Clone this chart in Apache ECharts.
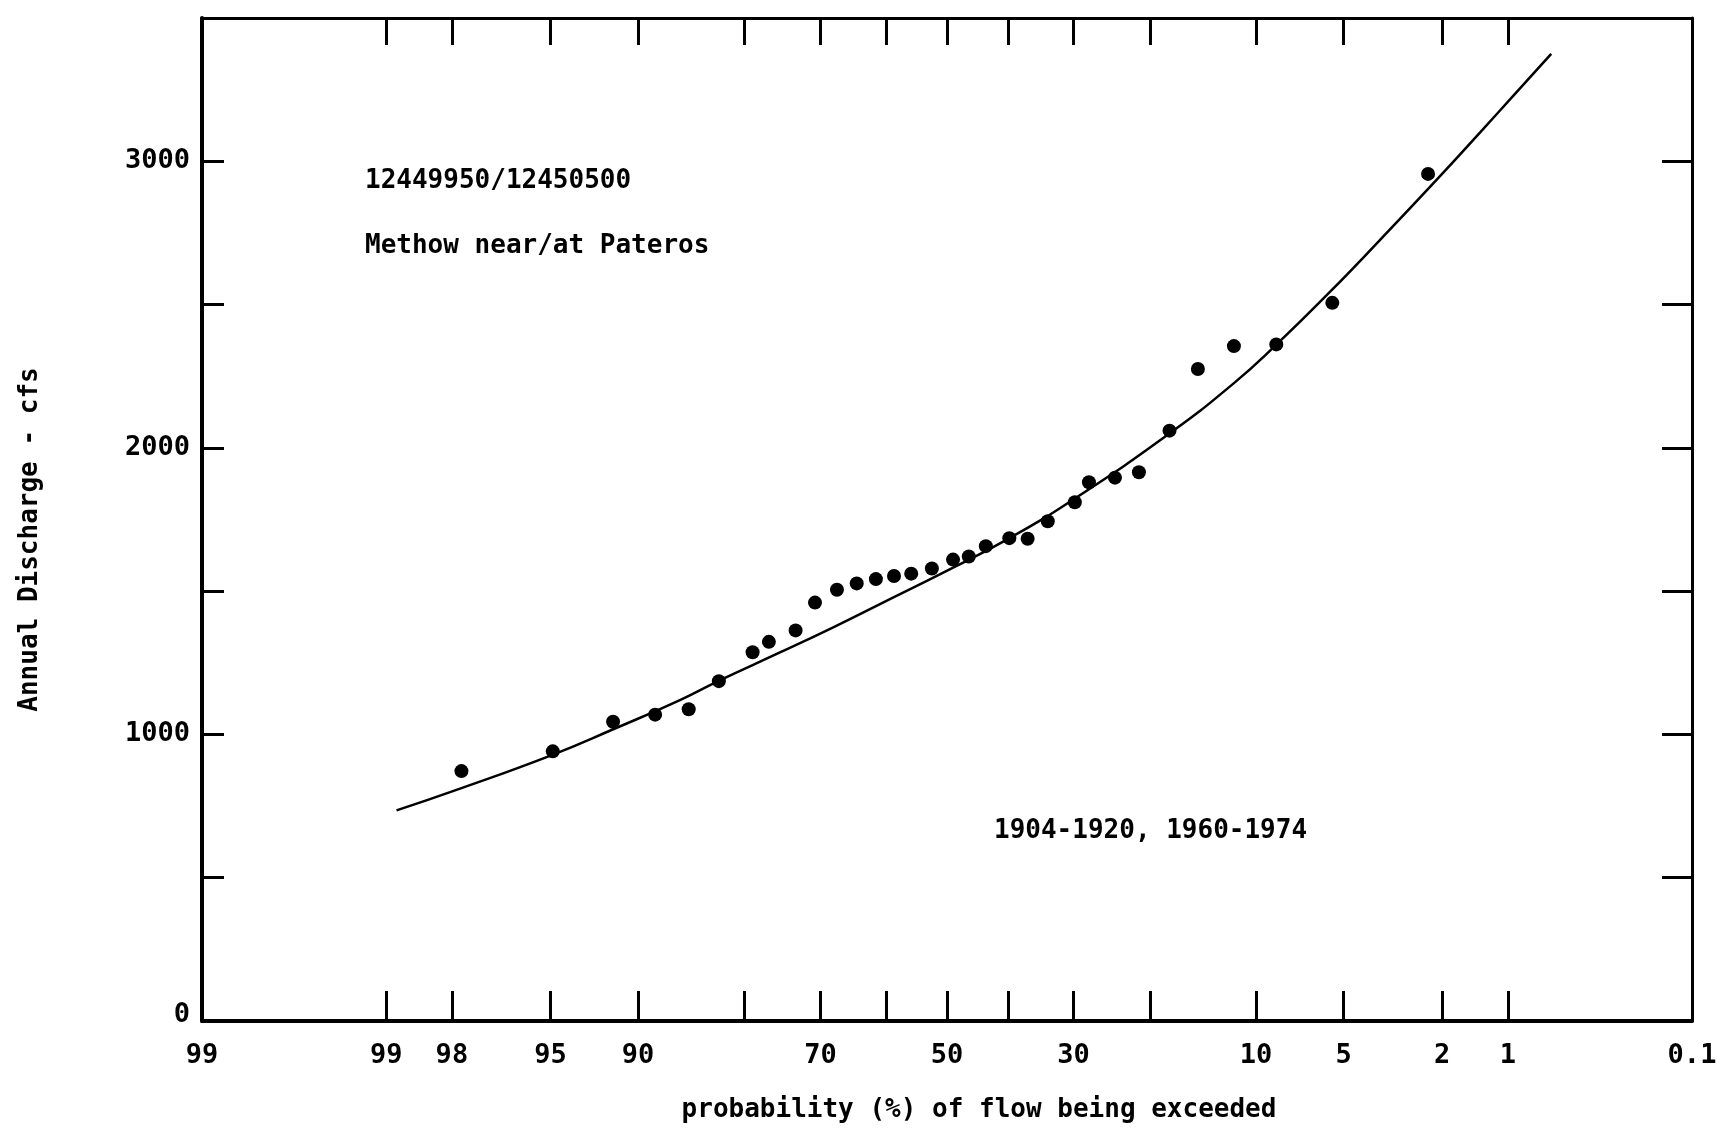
<!DOCTYPE html>
<html>
<head>
<meta charset="utf-8">
<script src="https://cdn.jsdelivr.net/npm/echarts@6/dist/echarts.min.js"></script>
<style>
html,body{margin:0;padding:0;background:#fff;}
#chart{width:1733px;height:1129px;}
</style>
</head>
<body>
<div id="chart"></div>
<script>
// ---- data ----
// observed annual discharge (cfs) vs. exceedance probability (%)
const obsExceedPct = [97.8, 94.9, 91.7, 88.7, 85.8, 82.8, 79.0, 77.0, 73.5, 70.8, 67.6, 64.6, 61.6, 58.7, 55.9, 52.5,
                      49.0, 46.4, 43.6, 39.8, 36.9, 33.8, 29.8, 27.8, 24.3, 21.3, 17.8, 14.9, 11.7, 8.6, 5.5, 2.3];
const obsDischarge = [872, 941, 1044, 1069, 1088, 1186, 1287, 1323, 1363, 1460, 1505, 1527, 1542, 1553, 1561, 1579,
                      1610, 1621, 1657, 1685, 1683, 1744, 1810, 1880, 1896, 1915, 2060, 2275, 2355, 2361, 2506, 2956];
// fitted frequency curve
const curveExceedPct = [98.88, 97.83, 94.94, 91.69, 86.60, 82.76, 75.58, 68.15, 60.95, 50.05, 39.69, 30.01,
                        17.81, 11.72, 8.56, 5.60, 3.62, 2.11, 1.35, 0.94, 0.61];
const curveDischarge = [735, 811, 928, 1018, 1120, 1188, 1286, 1374, 1455, 1571, 1686, 1820,
                        2050, 2225, 2362, 2545, 2726, 2936, 3101, 3229, 3375];
// axis ticks / labels
const xTickPct = [99, 98, 95, 90, 80, 70, 60, 50, 40, 30, 20, 10, 5, 2, 1];
const xLabelPct = [99.9, 99, 98, 95, 90, 70, 50, 30, 10, 5, 2, 1, 0.1];
const xLabelText = ['99', '99', '98', '95', '90', '70', '50', '30', '10', '5', '2', '1', '0.1'];
const yMin = 0, yMax = 3500, yStep = 500;
const yLabelValues = [0, 1000, 2000, 3000];
const annotations = ['12449950/12450500', 'Methow near/at Pateros', '1904-1920, 1960-1974'];

// ---- normal probability scale ----
function invNorm(p) {
  const a = [-3.969683028665376e+01, 2.209460984245205e+02, -2.759285104469687e+02, 1.383577518672690e+02, -3.066479806614716e+01, 2.506628277459239e+00];
  const b = [-5.447609879822406e+01, 1.615858368580409e+02, -1.556989798598866e+02, 6.680131188771972e+01, -1.328068155288572e+01];
  const c = [-7.784894002430293e-03, -3.223964580411365e-01, -2.400758277161838e+00, -2.549732968232446e+00, 4.374664141464968e+00, 2.938163982698783e+00];
  const d = [7.784695709041462e-03, 3.224671290700398e-01, 2.445134137142996e+00, 3.754408661907416e+00];
  const pl = 0.02425;
  let q, r;
  if (p < pl) {
    q = Math.sqrt(-2 * Math.log(p));
    return (((((c[0]*q+c[1])*q+c[2])*q+c[3])*q+c[4])*q+c[5]) / ((((d[0]*q+d[1])*q+d[2])*q+d[3])*q+1);
  } else if (p <= 1 - pl) {
    q = p - 0.5; r = q * q;
    return (((((a[0]*r+a[1])*r+a[2])*r+a[3])*r+a[4])*r+a[5])*q / (((((b[0]*r+b[1])*r+b[2])*r+b[3])*r+b[4])*r+1);
  } else {
    q = Math.sqrt(-2 * Math.log(1 - p));
    return -(((((c[0]*q+c[1])*q+c[2])*q+c[3])*q+c[4])*q+c[5]) / ((((d[0]*q+d[1])*q+d[2])*q+d[3])*q+1);
  }
}
const zx = pct => invNorm(1 - pct / 100);
const XMIN = zx(99.9), XMAX = zx(0.1);
const tickZ = xTickPct.map(zx);
const labelZ = xLabelPct.map(zx);
function xLabelFmt(v) {
  for (let i = 0; i < labelZ.length; i++) if (Math.abs(labelZ[i] - v) < 1e-4) return xLabelText[i];
  return '';
}

const FONT = 'DejaVu Sans Mono';
const FW = 'bold';
const chart = echarts.init(document.getElementById('chart'), null, {renderer: 'canvas'});
const grid = {left: 202, top: 18, width: 1490, height: 1003};

chart.setOption({
  animation: false,
  backgroundColor: '#fff',
  grid: grid,
  xAxis: [{
    type: 'value', position: 'bottom', min: XMIN, max: XMAX,
    name: 'probability (%) of flow being exceeded', nameLocation: 'middle', nameGap: 76,
    nameTextStyle: {fontFamily: FONT, fontWeight: FW, fontSize: 26, color: '#000', padding: [0, 0, 0, 64]},
    axisLine: {show: true, onZero: false, lineStyle: {color: '#000', width: 4}},
    axisTick: {show: true, inside: true, length: 30, customValues: tickZ, lineStyle: {color: '#000', width: 3}},
    axisLabel: {customValues: labelZ, formatter: xLabelFmt, margin: 21, fontFamily: FONT, fontWeight: FW, fontSize: 27, color: '#000', showMinLabel: true, showMaxLabel: true},
    splitLine: {show: false}
  }, {
    type: 'value', position: 'top', min: XMIN, max: XMAX,
    axisLine: {show: true, onZero: false, lineStyle: {color: '#000', width: 3}},
    axisTick: {show: true, inside: true, length: 27, customValues: tickZ, lineStyle: {color: '#000', width: 3}},
    axisLabel: {show: false},
    splitLine: {show: false}
  }],
  yAxis: [{
    type: 'value', position: 'left', min: yMin, max: yMax, interval: yStep,
    name: 'Annual Discharge - cfs', nameLocation: 'middle', nameGap: 159,
    nameTextStyle: {fontFamily: FONT, fontWeight: FW, fontSize: 26, color: '#000', padding: [0, 40, 0, 0]},
    axisLine: {show: true, onZero: false, lineStyle: {color: '#000', width: 4}},
    axisTick: {show: true, inside: true, length: 22, lineStyle: {color: '#000', width: 3}},
    axisLabel: {
      customValues: yLabelValues, margin: 12, fontFamily: FONT, fontWeight: FW, fontSize: 27, color: '#000',
      formatter: v => v === 0 ? '{z|0}' : String(v),
      rich: {z: {fontFamily: FONT, fontWeight: FW, fontSize: 27, color: '#000', padding: [0, 0, 12, 0]}}
    },
    splitLine: {show: false}
  }, {
    type: 'value', position: 'right', min: yMin, max: yMax, interval: yStep,
    axisLine: {show: true, onZero: false, lineStyle: {color: '#000', width: 3}},
    axisTick: {show: true, inside: true, length: 30, lineStyle: {color: '#000', width: 3}},
    axisLabel: {show: false},
    splitLine: {show: false}
  }],
  series: [{
    name: 'fitted', type: 'line', xAxisIndex: 0, yAxisIndex: 0,
    data: curveExceedPct.map((p, i) => [zx(p), curveDischarge[i]]),
    smooth: 0.5, showSymbol: false, symbol: 'none',
    lineStyle: {color: '#000', width: 2.5}, z: 2
  }, {
    name: 'observed', type: 'scatter', xAxisIndex: 0, yAxisIndex: 0,
    data: obsExceedPct.map((p, i) => [zx(p), obsDischarge[i]]),
    symbol: 'circle', symbolSize: 14,
    itemStyle: {color: '#000', opacity: 1}, z: 3
  }],
  graphic: [
    {type: 'text', left: 365, top: 168, style: {text: annotations[0], font: 'bold 26px "DejaVu Sans Mono"', fill: '#000'}},
    {type: 'text', left: 365, top: 233, style: {text: annotations[1], font: 'bold 26px "DejaVu Sans Mono"', fill: '#000'}},
    {type: 'text', left: 994, top: 818, style: {text: annotations[2], font: 'bold 26px "DejaVu Sans Mono"', fill: '#000'}}
  ]
});
</script>
</body>
</html>
